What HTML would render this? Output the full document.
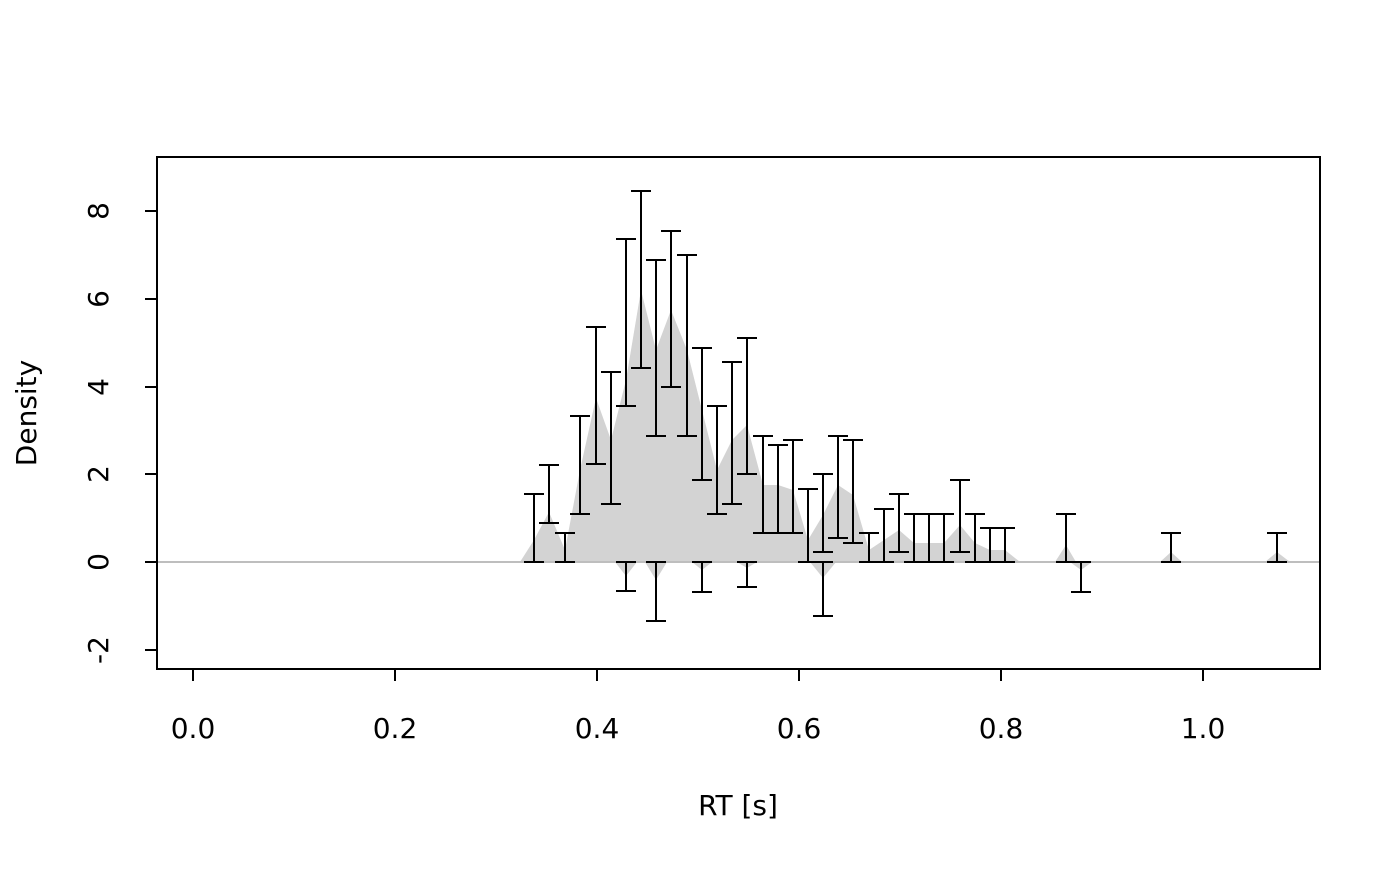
<!DOCTYPE html>
<html><head><style>body{margin:0;background:#fff}</style></head><body>
<svg width="1400" height="866" xmlns="http://www.w3.org/2000/svg" font-family="'DejaVu Sans','Liberation Sans',sans-serif" font-size="28">
<rect width="1400" height="866" fill="#fff"/>
<polygon fill="#d3d3d3" points="520,562 534,540 549,512 565,550 580,470 596,398 611,440 626,380 641,290 656,350 671,310 687,350 702,410 717,470 732,440 747,425 763,485 778,485 793,490 808,540 823,515 838,485 853,495 869,550 884,540 899,530 914,543 929,543 944,543 960,525 975,543 990,550 1005,550 1020,562 1055,562 1066,545 1076,562 1160,562 1171,552 1182,562 1265,562 1277,552 1290,562"/>
<g fill="#d3d3d3">
<polygon points="615,562 626,576 637,562"/><polygon points="645,562 656,580 667,562"/><polygon points="692,562 702,570 712,562"/><polygon points="737,562 747,568 757,562"/><polygon points="810,562 823,578 836,562"/><polygon points="1070,562 1081,570 1092,562"/>
</g>
<line x1="157" y1="562" x2="1320" y2="562" stroke="#bebebe" stroke-width="2"/>
<g stroke="#000" stroke-width="2" fill="none">
<path d="M534 494V562M524 494H544M524 562H544
M549 465V523M539 465H559M539 523H559
M565 533V562M555 533H575M555 562H575
M580 416V514M570 416H590M570 514H590
M596 327V464M586 327H606M586 464H606
M611 372V504M601 372H621M601 504H621
M626 239V406M616 239H636M616 406H636
M626 562V591M616 562H636M616 591H636
M641 191V368M631 191H651M631 368H651
M656 260V436M646 260H666M646 436H666
M656 562V621M646 562H666M646 621H666
M671 231V387M661 231H681M661 387H681
M687 255V436M677 255H697M677 436H697
M702 348V480M692 348H712M692 480H712
M702 562V592M692 562H712M692 592H712
M717 406V514M707 406H727M707 514H727
M732 362V504M722 362H742M722 504H742
M747 338V474M737 338H757M737 474H757
M747 562V587M737 562H757M737 587H757
M763 436V533M753 436H773M753 533H773
M778 445V533M768 445H788M768 533H788
M793 440V533M783 440H803M783 533H803
M808 489V562M798 489H818M798 562H818
M823 474V552M813 474H833M813 552H833
M823 562V616M813 562H833M813 616H833
M838 436V538M828 436H848M828 538H848
M853 440V543M843 440H863M843 543H863
M869 533V562M859 533H879M859 562H879
M884 509V562M874 509H894M874 562H894
M899 494V552M889 494H909M889 552H909
M914 514V562M904 514H924M904 562H924
M929 514V562M919 514H939M919 562H939
M944 514V562M934 514H954M934 562H954
M960 480V552M950 480H970M950 552H970
M975 514V562M965 514H985M965 562H985
M990 528V562M980 528H1000M980 562H1000
M1005 528V562M995 528H1015M995 562H1015
M1066 514V562M1056 514H1076M1056 562H1076
M1081 562V592M1071 562H1091M1071 592H1091
M1171 533V562M1161 533H1181M1161 562H1181
M1277 533V562M1267 533H1287M1267 562H1287"/>
</g>
<rect x="157" y="157" width="1163" height="512" fill="none" stroke="#000" stroke-width="2"/>
<g stroke="#000" stroke-width="2">
<line x1="193" y1="669" x2="1203" y2="669"/>
<line x1="193" y1="669" x2="193" y2="681"/><line x1="395" y1="669" x2="395" y2="681"/><line x1="597" y1="669" x2="597" y2="681"/><line x1="799" y1="669" x2="799" y2="681"/><line x1="1001" y1="669" x2="1001" y2="681"/><line x1="1203" y1="669" x2="1203" y2="681"/>
<line x1="157" y1="650" x2="157" y2="211"/>
<line x1="145" y1="650" x2="157" y2="650"/><line x1="145" y1="562" x2="157" y2="562"/><line x1="145" y1="474" x2="157" y2="474"/><line x1="145" y1="387" x2="157" y2="387"/><line x1="145" y1="299" x2="157" y2="299"/><line x1="145" y1="211" x2="157" y2="211"/>
</g>
<g text-anchor="middle">
<text x="193" y="738">0.0</text><text x="395" y="738">0.2</text><text x="597" y="738">0.4</text><text x="799" y="738">0.6</text><text x="1001" y="738">0.8</text><text x="1203" y="738">1.0</text>
<text x="738" y="815">RT [s]</text>
<text transform="translate(108,650) rotate(-90)">-2</text>
<text transform="translate(108,562) rotate(-90)">0</text>
<text transform="translate(108,474) rotate(-90)">2</text>
<text transform="translate(108,387) rotate(-90)">4</text>
<text transform="translate(108,299) rotate(-90)">6</text>
<text transform="translate(108,211) rotate(-90)">8</text>
<text transform="translate(36,413) rotate(-90)">Density</text>
</g>
</svg>
</body></html>
